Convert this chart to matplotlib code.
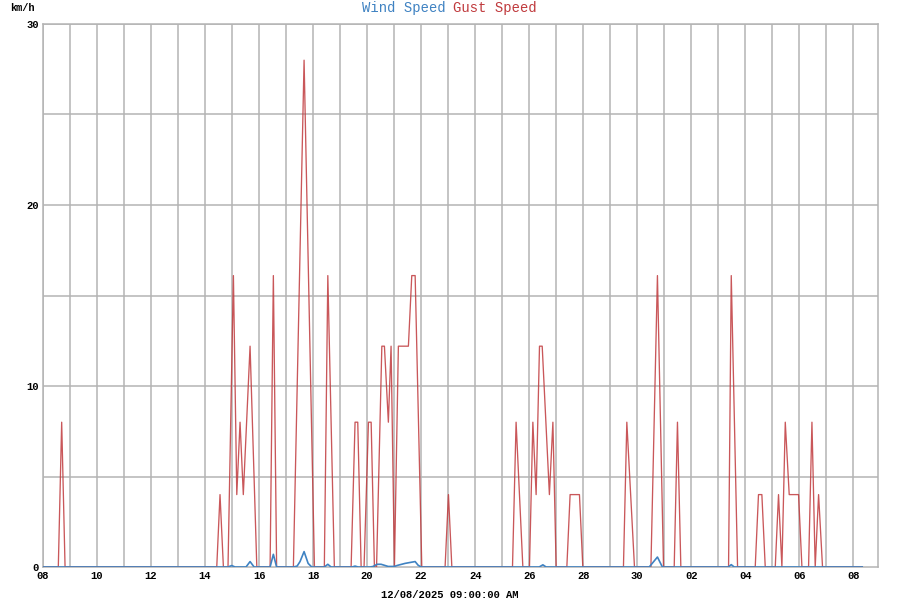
import matplotlib
matplotlib.use("Agg")
import matplotlib.pyplot as plt

# hours since 08 Nov 00:00
gust_hours = [0, 13.6, 16.6, 19.6,
              154.4, 157.3, 160.3, 164.4, 169.2, 172.2, 175.1, 178.0, 184.0, 190.0,
              201.8, 204.7, 207.6,
              222.5, 232.0, 241.2,
              250.0, 253.1, 258.9,
              273.8, 277.3, 279.7, 282.7, 285.3, 289.2, 291.6, 294.5, 296.4, 301.1,
              303.4, 306.9, 309.3, 312.3, 315.8, 324.7, 327.7, 330.7, 336.6,
              357.3, 360.3, 363.3,
              417.2, 420.4, 426.4,
              432.3, 435.3, 438.2, 441.2, 443.6, 450.0, 453.1, 456.0,
              465.5, 468.4, 476.7, 479.7,
              515.8, 518.8, 525.6,
              540.2, 546.0, 551.4,
              560.9, 563.8, 566.8,
              609.2, 611.6, 617.2,
              632.9, 635.8, 638.8, 641.8,
              650.7, 653.6, 656.6, 659.6, 663.1, 671.4, 674.4,
              680.3, 683.3, 686.2, 689.2, 692.7,
              728.0]
gust_kmh = [0, 0, 8.0, 0,
            0, 4.0, 0, 0, 16.1, 4.0, 8.0, 4.0, 12.2, 0,
            0, 16.1, 0,
            0, 28.0, 0,
            0, 16.1, 0,
            0, 8.0, 8.0, 0, 0, 8.0, 8.0, 0, 0, 12.2,
            12.2, 8.0, 12.2, 0, 12.2, 12.2, 16.1, 16.1, 0,
            0, 4.0, 0,
            0, 8.0, 0,
            0, 8.0, 4.0, 12.2, 12.2, 4.0, 8.0, 0,
            0, 4.0, 4.0, 0,
            0, 8.0, 0,
            0, 16.1, 0,
            0, 8.0, 0,
            0, 16.1, 0,
            0, 4.0, 4.0, 0,
            0, 4.0, 0, 8.0, 4.0, 4.0, 0,
            0, 8.0, 0, 4.0, 0,
            0]

wind_hours = [0, 164.4, 167.7, 170.7,
              180.4, 184.0, 187.6,
              201.8, 204.7, 207.6,
              222.5, 225.8, 228.4, 232.0, 235.6, 238.8,
              250.0, 253.1, 256.0,
              274.7, 277.3, 280.0,
              290.7, 293.3, 296.9, 300.4, 303.1, 306.7, 312.0, 315.6, 321.8, 326.2,
              330.7, 333.3, 336.0,
              440.9, 444.2, 447.1,
              538.7, 546.0, 550.4,
              608.9, 611.6, 614.2,
              728.0]
wind_kmh = [0, 0, 0.08, 0,
            0, 0.3, 0,
            0, 0.7, 0,
            0, 0.05, 0.3, 0.85, 0.2, 0,
            0, 0.15, 0,
            0, 0.05, 0,
            0, 0.03, 0.15, 0.15, 0.1, 0.03, 0.03, 0.1, 0.2, 0.25,
            0.3, 0.1, 0,
            0, 0.12, 0,
            0, 0.55, 0,
            0, 0.13, 0,
            0]

day_labels = ["08", "10", "12", "14", "16", "18", "20", "22", "24", "26",
              "28", "30", "02", "04", "06", "08"]
y_labels = ["0", "10", "20", "30"]

mono = ["Liberation Mono", "DejaVu Sans Mono"]
grid_col = "#b4b4b4"

fig = plt.figure(figsize=(9, 6), dpi=100)
ax = fig.add_axes([43 / 900, 33 / 600, 835 / 900, 543 / 600])

for h in range(0, 745, 24):
    ax.axvline(h, color=grid_col, lw=1.1, zorder=1)
for v in range(5, 31, 5):
    ax.axhline(v, color=grid_col, lw=1.1, zorder=1)

ax.plot(gust_hours, gust_kmh, color="#c03a3d", lw=0.95, alpha=0.85, zorder=3)
ax.plot(wind_hours, wind_kmh, color="#3f82c2", lw=1.2, zorder=4)

ax.set_xlim(0, 742)
ax.set_ylim(0, 30)
ax.set_xticks(range(0, 721, 48))
ax.set_xticklabels(day_labels, family=mono, weight="bold", fontsize=7.6)
ax.set_yticks([0, 10, 20, 30])
ax.set_yticklabels(y_labels, family=mono, weight="bold", fontsize=7.6)
ax.tick_params(length=0, pad=3)
for s in ax.spines.values():
    s.set_color(grid_col)
    s.set_linewidth(1.1)

fig.text(10 / 900, 1 - 8 / 600, "km/h", family=mono, weight="bold", fontsize=7.4,
         ha="left", va="center")
fig.text(446 / 900, 1 - 8 / 600, "Wind Speed", family=mono, fontsize=10,
         color="#3f82c2", ha="right", va="center")
fig.text(453 / 900, 1 - 8 / 600, "Gust Speed", family=mono, fontsize=10,
         color="#c03a3d", ha="left", va="center")
fig.text(450 / 900, 1 - 595 / 600, "12/08/2025 09:00:00 AM", family=mono,
         weight="bold", fontsize=7.6, ha="center", va="center")

fig.savefig("out.png", dpi=100)
